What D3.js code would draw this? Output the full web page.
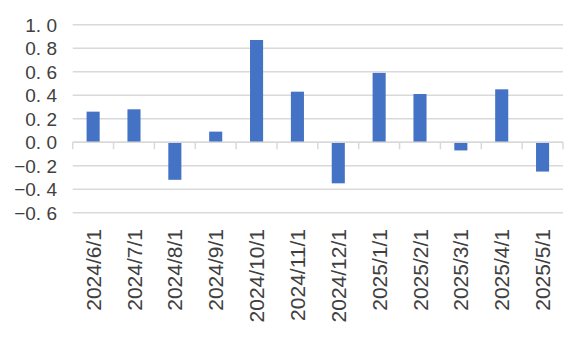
<!DOCTYPE html>
<html>
<head>
<meta charset="utf-8">
<script src="https://cdn.jsdelivr.net/npm/d3@7"></script>
<style>
  body { margin: 0; background: #fff; }
  svg { display: block; }
  .ylab { font-family: "Liberation Sans", Arial, sans-serif; font-size: 19px; fill: #404040; }
  .xlab { font-family: "Liberation Sans", Arial, sans-serif; font-size: 21px; fill: #404040; }
</style>
</head>
<body>
<div class="viz"></div>
<script>
const categories = ["2024/6/1", "2024/7/1", "2024/8/1", "2024/9/1", "2024/10/1", "2024/11/1",
  "2024/12/1", "2025/1/1", "2025/2/1", "2025/3/1", "2025/4/1", "2025/5/1"];
const values = [0.26, 0.28, -0.32, 0.09, 0.87, 0.43, -0.35, 0.59, 0.41, -0.07, 0.45, -0.25];
const yTicks = [1.0, 0.8, 0.6, 0.4, 0.2, 0.0, -0.2, -0.4, -0.6];

const width = 570, height = 339;
const plotLeft = 72.7, plotRight = 563, plotTop = 24.7, plotBottom = 212.7;

const svg = d3.select(".viz").append("svg")
  .attr("width", width)
  .attr("height", height);

const y = d3.scaleLinear().domain([-0.6, 1.0]).range([plotBottom, plotTop]);

// category slots (for ticks / labels) and bars inside them
const xSlot = d3.scaleBand().domain(categories).range([plotLeft, plotRight]);
const xBar = d3.scaleBand().domain(categories).range([plotLeft, plotRight])
  .paddingInner(0.68).paddingOuter(0.34);

// gridlines
svg.append("g")
  .selectAll("line")
  .data(yTicks)
  .join("line")
  .attr("x1", plotLeft)
  .attr("x2", plotRight)
  .attr("y1", d => y(d))
  .attr("y2", d => y(d))
  .attr("stroke", "#d9d9d9")
  .attr("stroke-width", 1.5);

// y labels, "1. 0" style
const fmt = d => {
  const s = Math.abs(d).toFixed(1).replace(".", ". ");
  return (d < -1e-9 ? "\u2212" : "") + s;
};
svg.append("g")
  .selectAll("text")
  .data(yTicks)
  .join("text")
  .attr("class", "ylab")
  .attr("x", 57)
  .attr("y", d => y(d))
  .attr("dy", "0.38em")
  .attr("text-anchor", "end")
  .text(fmt);

// bars
svg.append("g")
  .selectAll("rect")
  .data(values)
  .join("rect")
  .attr("x", (d, i) => xBar(categories[i]))
  .attr("width", xBar.bandwidth())
  .attr("y", d => y(Math.max(0, d)))
  .attr("height", d => Math.abs(y(d) - y(0)))
  .attr("fill", "#4472c4");

// zero axis line + tick marks at category boundaries
const zeroY = y(0);
svg.append("line")
  .attr("x1", plotLeft).attr("x2", plotRight)
  .attr("y1", zeroY).attr("y2", zeroY)
  .attr("stroke", "#d9d9d9")
  .attr("stroke-width", 1.5);

const bounds = categories.map(c => xSlot(c)).concat([plotRight]);
svg.append("g")
  .selectAll("line")
  .data(bounds)
  .join("line")
  .attr("x1", d => d).attr("x2", d => d)
  .attr("y1", zeroY).attr("y2", zeroY + 7)
  .attr("stroke", "#d9d9d9")
  .attr("stroke-width", 1.5);

// x labels, rotated
svg.append("g")
  .selectAll("text")
  .data(categories)
  .join("text")
  .attr("class", "xlab")
  .attr("transform", d => `translate(${xSlot(d) + xSlot.bandwidth() / 2}, 229) rotate(-90)`)
  .attr("dy", "0.36em")
  .attr("text-anchor", "end")
  .text(d => d);
</script>
</body>
</html>
